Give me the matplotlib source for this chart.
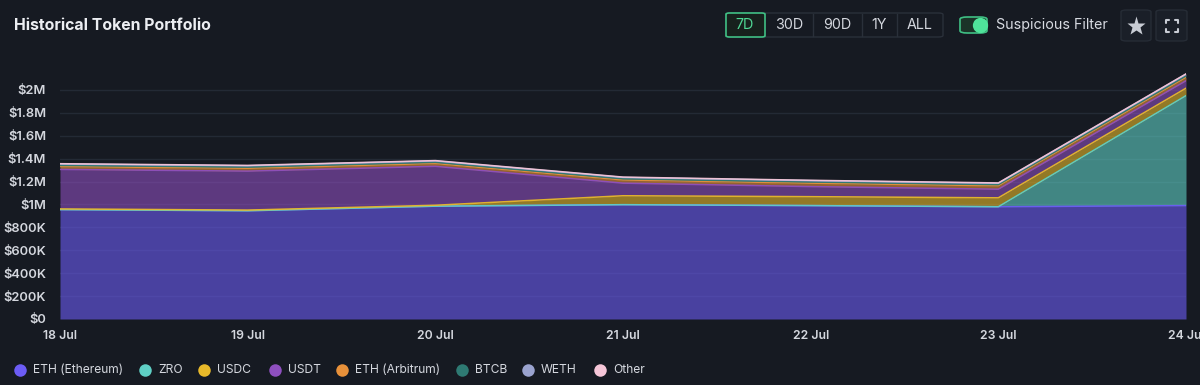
import matplotlib
matplotlib.use("Agg")
import matplotlib.pyplot as plt
import numpy as np
from matplotlib.patches import FancyBboxPatch
from matplotlib.lines import Line2D
from matplotlib.ticker import FuncFormatter

plt.rcParams['font.family'] = ['Inter', 'DejaVu Sans']

# data (values in $M)
days = ["18 Jul", "19 Jul", "20 Jul", "21 Jul", "22 Jul", "23 Jul", "24 Jul"]
eth_mainnet = [0.955, 0.945, 0.985, 0.998, 0.990, 0.980, 0.990]
zro = [0.0, 0.0, 0.0, 0.0, 0.0, 0.0, 0.960]
usdc = [0.006, 0.006, 0.008, 0.078, 0.078, 0.078, 0.065]
usdt = [0.345, 0.340, 0.340, 0.110, 0.088, 0.075, 0.065]
eth_arb = [0.025, 0.025, 0.025, 0.028, 0.030, 0.030, 0.030]
btcb = [0.010, 0.010, 0.010, 0.010, 0.010, 0.010, 0.012]
weth = [0.012, 0.012, 0.012, 0.012, 0.012, 0.012, 0.015]
other = [0.003, 0.003, 0.003, 0.003, 0.003, 0.003, 0.003]

labels = ["ETH (Ethereum)", "ZRO", "USDC", "USDT", "ETH (Arbitrum)", "BTCB", "WETH", "Other"]
colors = ["#6c5cf5", "#5fcfc5", "#e8b92a", "#8e4fbf", "#e8913a", "#2e7a73", "#9aa3cf", "#f5c6d8"]
series = [eth_mainnet, zro, usdc, usdt, eth_arb, btcb, weth, other]

BG = "#161a22"
W, H = 1200, 385


def fx(x):
    return x / W


def fy(y):
    return 1 - y / H


fig = plt.figure(figsize=(12, 3.85), dpi=100, facecolor=BG)
ax = fig.add_axes([fx(60), fy(319), fx(1186) - fx(60), fy(67) - fy(319)])
ax.set_facecolor(BG)

x = np.arange(len(days))
base = np.zeros(len(days))
for vals, c in zip(series, colors):
    top = base + np.array(vals)
    ax.fill_between(x, base, top, color=c, alpha=0.6, lw=0, zorder=2)
    ax.plot(x, top, color=c, lw=1.1, alpha=0.95, zorder=3)
    base = top

ax.set_xlim(0, len(days) - 1)
ax.set_ylim(0, 2.2)
yt = np.arange(0, 2.01, 0.2)
ax.set_yticks(yt)


def money(v, pos):
    if v < 0.001:
        return "$0"
    if v < 1:
        return "$%dK" % round(v * 1000)
    return "$%gM" % round(v, 1)


ax.yaxis.set_major_formatter(FuncFormatter(money))
ax.set_xticks(x)
ax.set_xticklabels(days)
ax.grid(axis='y', color="#232a35", lw=1, zorder=0)
ax.tick_params(axis='y', length=0, pad=10, labelsize=9.3, labelcolor="#d4d7de")
ax.tick_params(axis='x', length=0, pad=8, labelsize=8.8, labelcolor="#d4d7de")
for lab in ax.get_yticklabels() + ax.get_xticklabels():
    lab.set_fontweight('semibold')
for s in ax.spines.values():
    s.set_visible(False)

# header
fig.text(fx(14), fy(26), "Historical Token Portfolio", color="#eceef2", fontsize=11.4,
         fontweight='bold', va='center', ha='left')

seg = FancyBboxPatch((fx(726), fy(37)), fx(943) - fx(726), fy(13) - fy(37),
                     boxstyle="round,pad=0,rounding_size=0.004", transform=fig.transFigure,
                     fc=BG, ec="#2a303a", lw=1)
fig.patches.append(seg)
for sx in [813, 862, 897]:
    fig.add_artist(Line2D([fx(sx), fx(sx)], [fy(14), fy(36)], color="#2a303a", lw=1))
act = FancyBboxPatch((fx(726), fy(37)), fx(765) - fx(726), fy(13) - fy(37),
                     boxstyle="round,pad=0,rounding_size=0.003", transform=fig.transFigure,
                     fc="#17211d", ec="#3fbf84", lw=1.2)
fig.patches.append(act)
ranges = ["7D", "30D", "90D", "1Y", "ALL"]
rx = [745, 789, 837, 879, 920]
for r, px in zip(ranges, rx):
    fig.text(fx(px), fy(25), r, color="#4fd995" if r == "7D" else "#d4d7de",
             fontsize=10.3, ha='center', va='center')

tog = FancyBboxPatch((fx(960), fy(33)), fx(987) - fx(960), fy(17) - fy(33),
                     boxstyle="round,pad=0,rounding_size=0.006", transform=fig.transFigure,
                     fc="#1b3328", ec="#3fbf84", lw=1.2)
fig.patches.append(tog)
fig.add_artist(Line2D([fx(980)], [fy(25)], marker='o', ms=11, color="#4fe39a", mec="none"))
fig.text(fx(996), fy(25), "Suspicious Filter", color="#d8dbe2", fontsize=10.3,
         ha='left', va='center')

for bx0, bx1 in [(1121, 1151), (1156, 1187)]:
    b = FancyBboxPatch((fx(bx0), fy(41)), fx(bx1) - fx(bx0), fy(10) - fy(41),
                       boxstyle="round,pad=0,rounding_size=0.005", transform=fig.transFigure,
                       fc="#1a1f28", ec="#262c36", lw=1)
    fig.patches.append(b)
fig.add_artist(Line2D([fx(1136)], [fy(25.5)], marker='*', ms=14, color="#c8ccd4", mec="none"))
# fullscreen icon corners
cx, cy, d, k = 1171.5, 25.5, 6, 3
for sxn in (-1, 1):
    for syn in (-1, 1):
        x0, y0 = cx + sxn * d, cy + syn * d
        fig.add_artist(Line2D([fx(x0 - sxn * k), fx(x0), fx(x0)],
                              [fy(y0), fy(y0), fy(y0 - syn * k)],
                              color="#c8ccd4", lw=1.5, solid_capstyle='round'))

# legend
lx = [20, 145, 204, 275, 342, 462, 528, 600]
for lab, c, px in zip(labels, colors, lx):
    fig.add_artist(Line2D([fx(px)], [fy(370)], marker='o', ms=9, color=c, mec="none"))
    fig.text(fx(px + 13), fy(370), lab, color="#d4d7de", fontsize=8.7, ha='left', va='center')

fig.savefig("out.png", dpi=100, facecolor=BG)
